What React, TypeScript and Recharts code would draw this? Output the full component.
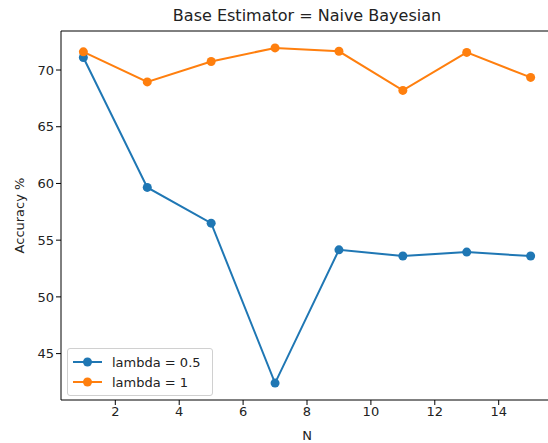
import { Line, LineChart, ReferenceLine, XAxis, YAxis } from "recharts";

const nValues = [1, 3, 5, 7, 9, 11, 13, 15];
const lambdaHalf = [71.1, 59.65, 56.5, 42.4, 54.15, 53.6, 53.95, 53.6];
const lambdaOne = [71.6, 68.95, 70.75, 71.95, 71.65, 68.2, 71.55, 69.35];
const xTicks = [2, 4, 6, 8, 10, 12, 14];
const yTicks = [45, 50, 55, 60, 65, 70];
const seriesNames = ["lambda = 0.5", "lambda = 1"];

const X_DOMAIN: [number, number] = [0.3, 15.7];
const Y_DOMAIN: [number, number] = [40.91, 73.44];

const BLUE = "#1f77b4";
const ORANGE = "#ff7f0e";
const FONT = "DejaVu Sans, sans-serif";

const data = nValues.map((n, i) => ({ n, a: lambdaHalf[i], b: lambdaOne[i] }));

function LegendBox() {
  const items = [
    { name: seriesNames[0], color: BLUE },
    { name: seriesNames[1], color: ORANGE },
  ];
  return (
    <div style={{ position: "absolute", left: 67, top: 348, border: "1px solid #d0d0d0", borderRadius: 3, background: "rgba(255,255,255,0.8)", padding: "3px 8px 3px 5px", width: 131, fontFamily: FONT, fontSize: 13, color: "#222" }}>
      {items.map((it) => (
        <div key={it.name} style={{ display: "flex", alignItems: "center", height: 20 }}>
          <svg width={30} height={12} style={{ marginRight: 9 }}>
            <line x1={0} y1={6} x2={29} y2={6} stroke={it.color} strokeWidth={2} />
            <circle cx={14.5} cy={6} r={4.5} fill={it.color} />
          </svg>
          <span>{it.name}</span>
        </div>
      ))}
    </div>
  );
}

export default function App() {
  return (
    <div style={{ position: "absolute", left: 0, top: 0, width: 548, height: 443, overflow: "hidden", background: "#fff" }}>
      <div style={{ position: "absolute", left: 61, width: 492, top: 6, textAlign: "center", fontFamily: FONT, fontSize: 16, color: "#222" }}>
        Base Estimator = Naive Bayesian
      </div>
      <LineChart width={560} height={443} data={data} margin={{ top: 31, right: 7, bottom: 0, left: 0 }} style={{ fontFamily: FONT }}>
        <XAxis
          dataKey="n"
          type="number"
          domain={X_DOMAIN}
          ticks={xTicks}
          allowDataOverflow
          height={43}
          stroke="#000"
          tickSize={5}
          tick={{ fill: "#222", fontSize: 13 }}
          label={{ value: "N", position: "insideBottom", offset: 3, fill: "#222", fontSize: 13 }}
        />
        <YAxis
          type="number"
          domain={Y_DOMAIN}
          ticks={yTicks}
          allowDataOverflow
          width={61}
          stroke="#000"
          tickSize={5}
          tick={{ fill: "#222", fontSize: 13 }}
          label={{ value: "Accuracy %", angle: -90, position: "insideLeft", offset: 19, fill: "#222", fontSize: 13, style: { textAnchor: "middle" } }}
        />
        <ReferenceLine y={Y_DOMAIN[1]} stroke="#000" />
        <Line dataKey="a" name={seriesNames[0]} stroke={BLUE} strokeWidth={2} dot={{ r: 4.5, fill: BLUE, stroke: BLUE, strokeWidth: 0 }} isAnimationActive={false} />
        <Line dataKey="b" name={seriesNames[1]} stroke={ORANGE} strokeWidth={2} dot={{ r: 4.5, fill: ORANGE, stroke: ORANGE, strokeWidth: 0 }} isAnimationActive={false} />
      </LineChart>
      <LegendBox />
    </div>
  );
}
